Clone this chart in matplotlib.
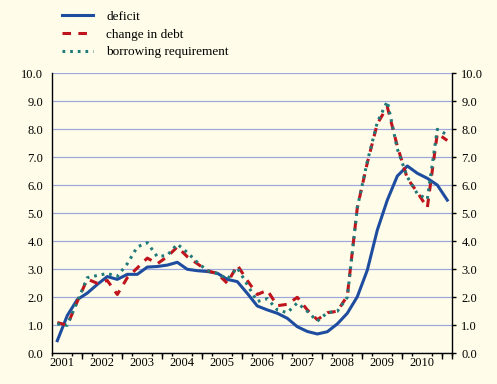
import matplotlib
matplotlib.use("Agg")
import matplotlib.pyplot as plt
import numpy as np

years = ["2001", "2002", "2003", "2004", "2005", "2006", "2007", "2008", "2009", "2010"]

deficit = [0.45, 1.35, 1.92, 2.15, 2.46, 2.74, 2.64, 2.82, 2.82, 3.08,
           3.1, 3.15, 3.25, 3.0, 2.95, 2.92, 2.86, 2.64, 2.56, 2.14,
           1.69, 1.55, 1.43, 1.25, 0.95, 0.78, 0.69, 0.77, 1.05, 1.43,
           2.02, 2.97, 4.4, 5.47, 6.33, 6.69, 6.43, 6.25, 6.01, 5.47]

change_in_debt = [1.1, 1.0, 1.85, 2.65, 2.5, 2.6, 2.1, 2.7, 3.05, 3.4,
                  3.2, 3.45, 3.8, 3.45, 3.2, 2.95, 2.85, 2.5, 3.15, 2.6,
                  2.1, 2.25, 1.7, 1.75, 2.0, 1.55, 1.2, 1.45, 1.5, 2.05,
                  5.2, 6.8, 8.2, 8.8, 7.4, 6.25, 5.75, 5.2, 7.85, 7.6]

borrowing_requirement = [1.05, 1.0, 1.85, 2.7, 2.78, 2.85, 2.75, 3.2, 3.8, 3.95,
                         3.45, 3.5, 3.9, 3.6, 3.25, 2.95, 2.85, 2.65, 3.05, 2.45,
                         1.85, 1.95, 1.55, 1.45, 1.8, 1.5, 1.15, 1.45, 1.5, 2.0,
                         5.2, 6.85, 8.25, 9.0, 7.3, 6.3, 5.7, 5.5, 8.0, 7.8]

bg = "#FFFDE9"
blue = "#1E4DA0"
red = "#C0141C"
teal = "#217A7A"
grid_c = "#9FA8DE"

plt.rcParams["font.family"] = ["Liberation Serif", "DejaVu Serif"]
plt.rcParams["font.size"] = 9

fig = plt.figure(figsize=(4.97, 3.84), dpi=100, facecolor=bg)
ax = fig.add_axes([52.3 / 497, 1 - 353.3 / 384, 400 / 497, 280 / 384], facecolor=bg)

x = np.arange(len(deficit))
lw = 2.2
l1, = ax.plot(x, deficit, color=blue, lw=lw, solid_joinstyle="round", zorder=3, label="deficit")
l2, = ax.plot(x, change_in_debt, color=red, lw=lw, dashes=(2.8, 2.4), zorder=4, label="change in debt")
l3, = ax.plot(x, borrowing_requirement, color=teal, lw=lw, dashes=(0.9, 1.6), zorder=5,
              label="borrowing requirement")

ax.set_xlim(-0.5, len(deficit) - 0.5)
ax.set_ylim(0, 10)
yt = np.arange(0, 11, 1)
ax.set_yticks(yt)
ax.set_yticklabels([f"{v:.1f}" for v in yt])
ax.yaxis.grid(True, color=grid_c, lw=0.9)
ax.set_axisbelow(True)
ax.tick_params(axis="y", which="both", left=False, right=True, labelleft=True, labelright=True,
               length=3, width=1, pad=3.5, direction="out")

ax.spines["top"].set_visible(False)
for s in ["left", "right", "bottom"]:
    ax.spines[s].set_color("black")
    ax.spines[s].set_linewidth(1.0)

# year labels at year centres
label_pos = [4 * i + 0.5 for i in range(len(years))]
ax.set_xticks(label_pos)
ax.set_xticklabels(years)
ax.tick_params(axis="x", which="major", length=0, pad=2.5)
ax.set_xticks(np.arange(-0.5, len(deficit), 1), minor=True)
ax.tick_params(axis="x", which="minor", length=2.5, width=1, direction="out")

sec = ax.secondary_xaxis("bottom")
sec.set_xticks([4 * i + 2.5 for i in range(len(years))] + [len(deficit) - 0.5])
sec.set_xticklabels([])
sec.tick_params(length=4.5, width=1, direction="out")
sec.spines["bottom"].set_visible(False)

leg = fig.legend(handles=[l1, l2, l3], loc="upper left", bbox_to_anchor=(55 / 497, 1 - 4 / 384),
                 frameon=False, fontsize=9.5, handlelength=2.4, handletextpad=1.0,
                 labelspacing=0.42, borderpad=0.0)

fig.savefig("out.png", dpi=100, facecolor=bg)
